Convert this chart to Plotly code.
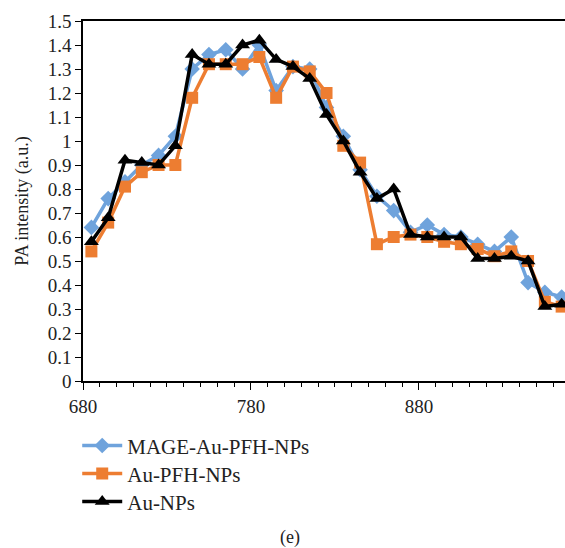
import plotly.graph_objects as go

wavelength = [685, 695, 705, 715, 725, 735, 745, 755, 765, 775,
              785, 795, 805, 815, 825, 835, 845, 855, 865, 875,
              885, 895, 905, 915, 925, 935, 945, 955, 965]

mage_au_pfh = [0.64, 0.76, 0.83, 0.90, 0.94, 1.02, 1.30, 1.36, 1.38, 1.30,
               1.40, 1.21, 1.31, 1.30, 1.14, 1.02, 0.88, 0.77, 0.71, 0.62,
               0.65, 0.61, 0.60, 0.57, 0.54, 0.60, 0.41, 0.37, 0.35]

au_pfh = [0.54, 0.66, 0.81, 0.87, 0.90, 0.90, 1.18, 1.32, 1.32, 1.32,
          1.35, 1.18, 1.31, 1.29, 1.20, 0.98, 0.91, 0.57, 0.60, 0.61,
          0.60, 0.58, 0.57, 0.55, 0.52, 0.54, 0.50, 0.33, 0.31]

au_nps = [0.58, 0.68, 0.92, 0.91, 0.90, 0.98, 1.36, 1.32, 1.32, 1.40,
          1.42, 1.34, 1.31, 1.26, 1.11, 1.00, 0.87, 0.76, 0.80, 0.61,
          0.60, 0.60, 0.60, 0.51, 0.51, 0.52, 0.50, 0.31, 0.32]

x_ticks = [680, 780, 880]
series_names = ["MAGE-Au-PFH-NPs", "Au-PFH-NPs", "Au-NPs"]

FONT = "Liberation Serif"
BLUE = "#6fa3dc"
ORANGE = "#ed7d31"
BLACK = "#000000"
TXT = "#222222"

fig = go.Figure()
fig.add_trace(go.Scatter(
    x=wavelength, y=mage_au_pfh, name=series_names[0], mode="lines+markers",
    line=dict(color=BLUE, width=3.5),
    marker=dict(symbol="diamond", size=12, color=BLUE),
    legend="legend", cliponaxis=False))
fig.add_trace(go.Scatter(
    x=wavelength, y=au_pfh, name=series_names[1], mode="lines+markers",
    line=dict(color=ORANGE, width=3.5),
    marker=dict(symbol="square", size=12, color=ORANGE),
    legend="legend2", cliponaxis=False))
fig.add_trace(go.Scatter(
    x=wavelength, y=au_nps, name=series_names[2], mode="lines+markers",
    line=dict(color=BLACK, width=3.5),
    marker=dict(symbol="triangle-up", size=13, color=BLACK),
    legend="legend3", cliponaxis=False))

leg_common = dict(x=-0.012, xanchor="left", yanchor="middle", itemwidth=40,
                  bgcolor="rgba(0,0,0,0)", font=dict(family=FONT, size=21, color=TXT))

fig.update_layout(
    width=565, height=548,
    margin=dict(l=83, r=0, t=21, b=167, autoexpand=False),
    plot_bgcolor="white", paper_bgcolor="white",
    font=dict(family=FONT, size=19, color=TXT),
    showlegend=True,
    legend=dict(y=-0.18, **leg_common),
    legend2=dict(y=-0.258, **leg_common),
    legend3=dict(y=-0.336, **leg_common),
    xaxis=dict(
        range=[680, 967], tickvals=x_ticks, ticktext=[str(v) for v in x_ticks],
        showline=True, linecolor="black", linewidth=1.5, mirror=True, automargin=False,
        ticks="outside", ticklen=7, tickcolor="black", showgrid=False, zeroline=False,
        tickfont=dict(family=FONT, size=19, color=TXT),
        minor=dict(dtick=10, tick0=680, ticks="outside", ticklen=4, tickcolor="black", showgrid=False),
    ),
    yaxis=dict(
        range=[0, 1.5], dtick=0.1, tick0=0, automargin=False,
        showline=True, linecolor="black", linewidth=1.5, mirror=False,
        ticks="outside", ticklen=6, tickcolor="black", showgrid=False, zeroline=False,
        tickfont=dict(family=FONT, size=19, color=TXT),
        title=dict(text="PA intensity (a.u.)", font=dict(family=FONT, size=18, color=TXT), standoff=14),
    ),
    annotations=[dict(text="(e)", xref="paper", yref="paper", x=0.43, y=-0.436,
                      xanchor="center", yanchor="middle", showarrow=False,
                      font=dict(family=FONT, size=18, color=TXT))],
)

fig.write_html("out.html", config={"displayModeBar": False},
               post_script="document.body.style.margin='0px';")
